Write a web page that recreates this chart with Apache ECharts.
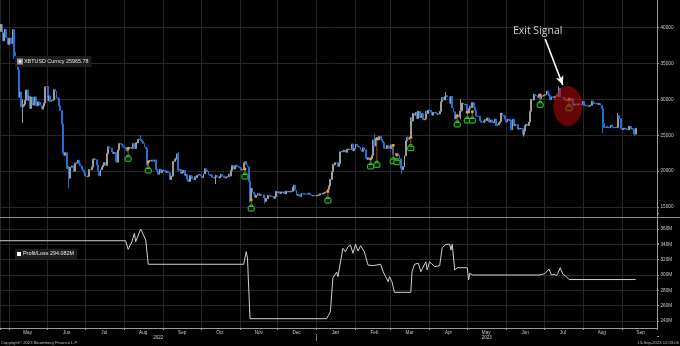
<!DOCTYPE html>
<html><head><meta charset="utf-8">
<script src="https://cdn.jsdelivr.net/npm/echarts@6/dist/echarts.min.js"></script>
<style>html,body{margin:0;padding:0;background:#000;}#c{width:680px;height:346px;}</style>
</head><body><div id="c"></div>
<script>
// ---------- DATA ----------
const startDate = [2022, 4, 24];   // first daily close (y, m, d)
const endDate = [2023, 9, 29];     // right edge of the time axis
// XBTUSD daily closes, 2022-04-24 .. 2023-09-12
const btcClose = [
  39450, 40430, 38120, 39240, 39740, 38600, 37630,
  38470, 38530, 37750, 39690, 36550, 36010, 35470, 34060, 30300, 31020, 28940, 29050, 29280, 29860, 31300, 29860, 30420, 28720, 30310, 29200, 29430, 30320, 29100, 29650, 29540, 29200, 28630, 29030, 29470, 31730, 31790,
  29800, 30470, 29700, 29860, 29910, 31370, 31130, 30210, 30110, 29090, 28420, 26570, 22490, 22210, 22570, 20380, 20470, 19020, 20550, 20720, 20710, 19990, 21100, 21230, 21500, 21030, 20730, 20280, 20100, 19780,
  19300, 19240, 19300, 20230, 20190, 20550, 21640, 21730, 21590, 20860, 19970, 19330, 20210, 20570, 20830, 21190, 20790, 22430, 23390, 23230, 23160, 22690, 22450, 22580, 21310, 21250, 22950, 23840, 23780, 23640, 23340,
  23310, 22980, 22820, 23200, 23290, 23180, 23250, 23830, 23160, 23950, 23950, 24400, 24440, 24300, 24100, 23850, 23340, 23190, 20830, 21300, 21520, 21400, 21530, 21370, 21580, 20260, 20040, 19560, 20280, 19810, 20050,
  20130, 19950, 19830, 19990, 19800, 18840, 19290, 19320, 21360, 21650, 21830, 22400, 20170, 20240, 19700, 19800, 20110, 19420, 19540, 18880, 18550, 19410, 19300, 18930, 18800, 19230, 19080, 19410, 19590, 19430,
  19310, 19050, 19620, 20340, 20160, 19960, 19530, 19420, 19450, 19140, 19050, 19160, 19380, 19190, 19070, 19270, 19550, 19330, 19130, 19050, 19170, 19210, 19570, 19330, 20090, 20770, 20290, 20600, 20820, 20630, 20490,
  20480, 20160, 20210, 21150, 21300, 20910, 20600, 18540, 15880, 17590, 17070, 16800, 16350, 16620, 16900, 16660, 16680, 16700, 16700, 16280, 15790, 16190, 16610, 16600, 16520, 16460, 16440, 16220, 16440, 17170,
  16980, 17090, 16890, 17110, 16970, 17090, 16840, 17220, 17130, 17160, 17110, 17200, 17780, 18050, 17360, 16630, 16780, 16740, 16440, 16900, 16830, 16820, 16780, 16840, 16840, 16920, 16710, 16550, 16630, 16600, 16550,
  16610, 16670, 16670, 16850, 16830, 16950, 16950, 17090, 17190, 17450, 17940, 18850, 19930, 20950, 20870, 21170, 21160, 20690, 21080, 22680, 22780, 22710, 22920, 22620, 23060, 23010, 23080, 23030, 23770, 22840, 23140,
  23730, 23490, 23430, 23330, 22940, 22760, 23240, 22960, 21800, 21630, 21860, 21790, 21770, 22200, 24330, 23520, 24570, 24640, 24330, 24830, 24440, 24190, 23950, 23200, 23170, 23560, 23490, 23150,
  23650, 23480, 22360, 22350, 22430, 22410, 22200, 21720, 20360, 20190, 20630, 22140, 24200, 24740, 24380, 24700, 27420, 26970, 28040, 27770, 28170, 27310, 28330, 27490, 27490, 27990, 27140, 27270, 28350, 28030, 28480,
  28450, 28200, 27790, 28170, 28180, 28040, 27930, 27950, 28330, 29650, 30240, 29890, 30400, 30490, 30320, 30320, 29450, 30400, 28820, 28250, 27280, 27820, 27590, 27520, 28310, 28420, 29480, 29340, 29250, 29270,
  28090, 28680, 29030, 28850, 29540, 28900, 28450, 27690, 27650, 27630, 26990, 26810, 26780, 26930, 27180, 27040, 27400, 26830, 26890, 27120, 26750, 26850, 27230, 26330, 26480, 26720, 26870, 28090, 27750, 27700, 27220,
  26820, 27250, 27070, 27120, 25760, 27240, 26350, 26500, 26480, 25850, 25940, 25900, 25930, 25120, 25580, 26330, 26510, 26340, 26840, 28310, 29990, 29890, 30690, 30550, 30470, 30270, 30700, 30080, 30450, 30480,
  30590, 30620, 31160, 30770, 30510, 29900, 30350, 30290, 30170, 30410, 30620, 30390, 31480, 30320, 30300, 30240, 30140, 29860, 29910, 29800, 29910, 29800, 30080, 29180, 29230, 29350, 29210, 29310, 29350, 29280, 29230,
  29710, 29180, 29180, 29070, 29050, 29040, 29180, 29770, 29560, 29430, 29400, 29420, 29280, 29410, 29170, 28700, 26660, 26050, 26100, 26190, 26120, 26040, 26430, 26160, 26060, 26010, 26090, 26110, 27730, 27300, 25940,
  25800, 25870, 25970, 25810, 25780, 25750, 26240, 25900, 25900, 25840, 25160, 25965.78
];
// intraday extremes [date, low, high]
const wicks = [
  ['2022-05-05', 35600, 39800], ['2022-05-12', 26700, 30000], ['2022-06-18', 17600, 20700],
  ['2022-08-14', 24200, 25000], ['2022-09-13', 19900, 22700], ['2022-10-13', 18200, 19500],
  ['2022-11-09', 15600, 18600], ['2022-11-21', 15500, 16300], ['2023-02-16', 23400, 25200],
  ['2023-03-10', 19600, 20400], ['2023-04-14', 30000, 31000], ['2023-04-26', 27200, 30000],
  ['2023-06-15', 24800, 25700], ['2023-07-13', 30300, 31800], ['2023-08-17', 25300, 28700],
  ['2023-08-29', 26000, 28100], ['2023-09-11', 24900, 25900]
];
// trade signals: date, price at signal, level of the marker icon
const signalDates = ['2022-08-04','2022-08-20','2022-11-05','2022-11-10','2023-01-10','2023-02-13','2023-02-18','2023-03-03','2023-03-06','2023-03-17','2023-04-23','2023-05-01','2023-05-05','2023-06-28','2023-07-21'];
const signalPrices = [23200, 21300, 20300, 16000, 17150, 21700, 24500, 23600, 22250, 24700, 27700, 28200, 28250, 30600, 30050];
const signalIcons = [21790, 20160, 19320, 14870, 15980, 20720, 20950, 21450, 21310, 23260, 26560, 27120, 27120, 29300, 28830];
// exit annotation
const exitSignal = ['2023-07-20', 29070];
const exitLabel = ['2023-06-26', 39500];
const exitArrow = [['2023-07-02', 38400], ['2023-07-16', 31990]];
// Profit / Loss (USD millions)
const plDates = ['2022-04-24','2022-08-02','2022-08-04','2022-08-07','2022-08-09','2022-08-10','2022-08-14','2022-08-18','2022-08-20','2022-11-04','2022-11-06','2022-11-07','2022-11-09','2023-01-09','2023-01-12','2023-01-14','2023-01-17','2023-01-18','2023-01-21','2023-01-22','2023-01-24','2023-01-26','2023-01-28','2023-01-30','2023-02-01','2023-02-03','2023-02-05','2023-02-06','2023-02-08','2023-02-11','2023-02-12','2023-02-15','2023-02-21','2023-02-23','2023-02-25','2023-02-27','2023-02-28','2023-03-02','2023-03-04','2023-03-17','2023-03-18','2023-03-20','2023-03-23','2023-03-25','2023-03-29','2023-03-30','2023-04-01','2023-04-05','2023-04-09','2023-04-11','2023-04-14','2023-04-17','2023-04-18','2023-04-19','2023-04-21','2023-04-23','2023-05-01','2023-05-02','2023-05-03','2023-05-05','2023-06-27','2023-06-28','2023-06-30','2023-07-02','2023-07-05','2023-07-07','2023-07-09','2023-07-11','2023-07-12','2023-07-14','2023-07-16','2023-07-18','2023-07-21','2023-09-12'];
const plValues = [344.7,344.7,333.5,343.4,354.4,343.4,360.0,345.6,314.0,314.0,330.4,322.2,243.0,243.0,252.1,296.1,303.9,297.8,326.1,334.8,330.4,336.9,339.0,328.3,340.0,331.3,338.2,336.9,330.4,313.0,310.9,312.2,314.0,304.3,297.8,291.3,297.8,291.3,277.4,277.4,304.3,314.0,315.3,304.3,317.3,306.5,317.3,310.9,312.2,335.6,340.0,340.0,332.6,340.0,306.5,309.5,309.5,293.5,302.2,300.0,300.0,297.8,300.9,302.2,307.8,300.0,301.0,299.1,302.2,309.5,301.0,299.1,294.082,294.082];
const monthNames = ['Jan','Feb','Mar','Apr','May','Jun','Jul','Aug','Sep','Oct','Nov','Dec'];
const priceTicks = [10000, 43820, 5000];   // axis min, axis max (top edge), tick step
const plTicks = [220, 380, 20];

// ---------- BUILD ----------
const ts = s => { const p = s.split('-').map(Number); return new Date(p[0], p[1]-1, p[2]).getTime(); };
const xMin = new Date(startDate[0], startDate[1]-1, startDate[2]).getTime();
const xMax = new Date(endDate[0], endDate[1]-1, endDate[2]).getTime();
const wickMap = {}; wicks.forEach(w => wickMap[ts(w[0])] = w);
const candles = btcClose.map((c, i) => {
  const t = new Date(startDate[0], startDate[1]-1, startDate[2] + i).getTime();
  const o = i ? btcClose[i-1] : c;
  let lo = Math.min(o, c), hi = Math.max(o, c);
  if (wickMap[t]) { lo = Math.min(lo, wickMap[t][1]); hi = Math.max(hi, wickMap[t][2]); }
  return [t, o, c, lo, hi];
});
const lastClose = btcClose[btcClose.length-1];
const lastPL = plValues[plValues.length-1];
const midMonths = [];
for (let y = 2022; y <= 2023; y++) for (let m = 0; m < 12; m++) {
  const mid = new Date(y, m, 16).getTime();
  if (mid >= xMin && mid <= xMax) midMonths.push(mid);
}
const yearCenters = [2022, 2023].map(y => (Math.max(new Date(y,0,1).getTime(), xMin) + Math.min(new Date(y+1,0,1).getTime(), xMax)) / 2);
const yearDivider = [new Date(2023,0,1).getTime()];

const GRID = '#262626', AXC = '#9a9a9a', LBL = '#c8c8c8';
const FONT = 'Liberation Sans';
const pxPer1000 = 7.184;                      // top panel scale
const priceBottom = 99.3 + 20 * pxPer1000;    // pixel row of 10000
const plTop = 275 - 80 * 0.7667;
const plH = 160 * 0.7667;
const hiddenX = gi => ({ gridIndex: gi, type: 'value', min: xMin, max: xMax, show: false, splitLine: { show: false } });

const option = {
  backgroundColor: '#000',
  animation: false,
  textStyle: { fontFamily: FONT },
  grid: [
    { left: 0, right: 23, top: 0, bottom: 346 - priceBottom },
    { left: 0, right: 23, top: plTop, height: plH },
    { left: 0, right: 23, top: 0, height: 328 }
  ],
  xAxis: [
    hiddenX(0), hiddenX(1),
    { gridIndex: 2, type: 'time', min: xMin, max: xMax, position: 'bottom', splitNumber: 18,
      axisLine: { lineStyle: { color: AXC, width: 1 } },
      axisTick: { show: true, length: 2, lineStyle: { color: AXC } },
      axisLabel: { show: false },
      splitLine: { show: true, lineStyle: { color: GRID, width: 1 } } },
    { gridIndex: 2, type: 'value', min: xMin, max: xMax, position: 'bottom',
      axisLine: { show: false }, axisTick: { show: false }, splitLine: { show: false },
      axisLabel: { customValues: midMonths, color: LBL, fontSize: 4.6, margin: 2.5, hideOverlap: false, showMinLabel: true, showMaxLabel: true,
        formatter: v => monthNames[new Date(v).getMonth()] } },
    { gridIndex: 2, type: 'value', min: xMin, max: xMax, position: 'bottom', offset: 6,
      axisLine: { show: false }, splitLine: { show: false },
      axisTick: { show: true, customValues: yearDivider, length: 7, lineStyle: { color: '#777' } },
      axisLabel: { customValues: yearCenters, color: LBL, fontSize: 4.6, margin: 1.5, hideOverlap: false,
        formatter: v => String(new Date(v).getFullYear()) } }
  ],
  yAxis: [
    { gridIndex: 0, type: 'value', position: 'right', min: priceTicks[0], max: priceTicks[1], interval: priceTicks[2],
      axisLine: { show: false },
      axisTick: { show: true, length: 2, lineStyle: { color: AXC } },
      axisLabel: { color: LBL, fontSize: 4.7, margin: 3.5, showMaxLabel: false,
        formatter: v => (v <= priceTicks[0] || v % priceTicks[2] !== 0) ? '' : String(v) },
      splitLine: { show: true, showMinLine: false, showMaxLine: false, lineStyle: { color: GRID } } },
    { gridIndex: 1, type: 'value', position: 'right', min: plTicks[0], max: plTicks[1], interval: plTicks[2],
      axisLine: { show: false },
      axisTick: { show: true, length: 2, lineStyle: { color: AXC } },
      axisLabel: { color: LBL, fontSize: 4.7, margin: 3.5,
        formatter: v => (v <= plTicks[0] || v >= plTicks[1]) ? '' : v + 'M' },
      splitLine: { show: true, showMinLine: false, showMaxLine: false, lineStyle: { color: GRID } } },
    { gridIndex: 2, type: 'value', position: 'right', min: 0, max: 1,
      axisLine: { show: true, lineStyle: { color: AXC } },
      axisTick: { show: false }, axisLabel: { show: false }, splitLine: { show: false } }
  ],
  legend: [
    { left: 15, top: 56, itemWidth: 4, itemHeight: 4, padding: [2.5, 3, 2.5, 2], backgroundColor: '#1c1c1c',
      data: [{ name: 'XBTUSD Curncy', icon: 'rect', itemStyle: { color: '#fff' } }],
      textStyle: { color: '#e8e8e8', fontSize: 5.4, fontFamily: FONT, padding: [0, 0, 0, -3] },
      formatter: n => n + ' ' + lastClose, selectedMode: false },
    { left: 15, top: 249, itemWidth: 4, itemHeight: 4, padding: [2.5, 3, 2.5, 2], backgroundColor: '#1c1c1c',
      data: [{ name: 'Profit/Loss', icon: 'rect', itemStyle: { color: '#fff' } }],
      textStyle: { color: '#e8e8e8', fontSize: 5.4, fontFamily: FONT, padding: [0, 0, 0, -3] },
      formatter: n => n + ' ' + lastPL.toFixed(3) + 'M', selectedMode: false }
  ],
  series: [
    { name: 'XBTUSD Curncy', type: 'candlestick', xAxisIndex: 0, yAxisIndex: 0,
      encode: { x: 0, y: [1, 2, 3, 4] }, data: candles, barWidth: 1.4,
      itemStyle: { color: '#9c9c9c', color0: '#1f6fd6', borderColor: '#9c9c9c', borderColor0: '#1f6fd6', borderWidth: 1 },
      markLine: { silent: true, symbol: 'none', lineStyle: { opacity: 0 },
        label: { position: 'end', formatter: String(lastClose), backgroundColor: '#f2f2f2', color: '#000',
          fontSize: 4.8, padding: [1.5, 1.5], distance: 2 },
        data: [{ yAxis: lastClose }] } },
    { name: 'signals', type: 'custom', xAxisIndex: 0, yAxisIndex: 0, z: 5,
      encode: { x: 0, y: [1, 2] },
      data: signalDates.map((d, i) => [ts(d), signalPrices[i], signalIcons[i]]),
      renderItem: (params, api) => {
        const p = api.coord([api.value(0), api.value(1)]);
        const q = api.coord([api.value(0), api.value(2)]);
        const ch = [];
        if (q[1] - p[1] > 7) ch.push({ type: 'line', shape: { x1: p[0], y1: p[1], x2: q[0], y2: q[1] - 3 }, style: { stroke: '#8a5210', lineWidth: 1 } });
        ch.push({ type: 'circle', shape: { cx: p[0], cy: p[1], r: 1.5 }, style: { fill: '#f5a21e' } });
        ch.push({ type: 'rect', shape: { x: q[0] - 3, y: q[1] - 1.5, width: 6, height: 4.5, r: 0.8 }, style: { fill: '#041204', stroke: '#33d433', lineWidth: 1 } });
        ch.push({ type: 'polyline', shape: { points: [[q[0] - 1.3, q[1] - 1.5], [q[0] - 1.3, q[1] - 3], [q[0] + 1.3, q[1] - 3], [q[0] + 1.3, q[1] - 1.5]] }, style: { fill: null, stroke: '#33d433', lineWidth: 1 } });
        return { type: 'group', children: ch };
      } },
    { name: 'exit', type: 'scatter', xAxisIndex: 0, yAxisIndex: 0, z: 8, silent: true,
      data: [[ts(exitSignal[0]), exitSignal[1]]], symbol: 'circle', symbolSize: [29, 40],
      itemStyle: { color: 'rgba(175,8,8,0.72)' } },
    { name: 'exitNote', type: 'scatter', xAxisIndex: 0, yAxisIndex: 0, z: 9, silent: true,
      data: [[ts(exitLabel[0]), exitLabel[1]]], symbolSize: 1, itemStyle: { color: 'rgba(0,0,0,0)' },
      label: { show: true, position: 'inside', formatter: 'Exit Signal', color: '#fff', fontSize: 10.5, fontFamily: 'Open Sans' },
      markLine: { silent: true, symbol: ['none', 'arrow'], symbolSize: [6, 9],
        lineStyle: { color: '#fff', width: 1.6, type: 'solid' }, label: { show: false },
        data: [[{ coord: [ts(exitArrow[0][0]), exitArrow[0][1]] }, { coord: [ts(exitArrow[1][0]), exitArrow[1][1]] }]] } },
    { name: 'Profit/Loss', type: 'line', xAxisIndex: 1, yAxisIndex: 1,
      data: plDates.map((d, i) => [ts(d), plValues[i]]), showSymbol: false, symbol: 'none',
      lineStyle: { color: '#cfcfcf', width: 1 }, itemStyle: { color: '#cfcfcf' },
      markLine: { silent: true, symbol: 'none', lineStyle: { opacity: 0 },
        label: { position: 'end', formatter: lastPL.toFixed(3) + 'M', backgroundColor: '#f2f2f2', color: '#000',
          fontSize: 4.8, padding: [1.5, 1.5], distance: 2 },
        data: [{ yAxis: lastPL }] } }
  ],
  graphic: [
    { type: 'line', z: 50, shape: { x1: 0, y1: 217.5, x2: 680, y2: 217.5 }, style: { stroke: '#8c8c8c', lineWidth: 1.2 } },
    { type: 'text', left: 1, top: 340.5, style: { text: 'Copyright\u00a9 2023 Bloomberg Finance L.P.', fill: '#bdbdbd', fontSize: 4.2, fontFamily: FONT } },
    { type: 'text', right: 1, top: 340.5, style: { text: '13-Sep-2023 12:03:06', fill: '#bdbdbd', fontSize: 4.2, fontFamily: FONT } }
  ]
};
const chart = echarts.init(document.getElementById('c'));
chart.setOption(option);
</script></body></html>
